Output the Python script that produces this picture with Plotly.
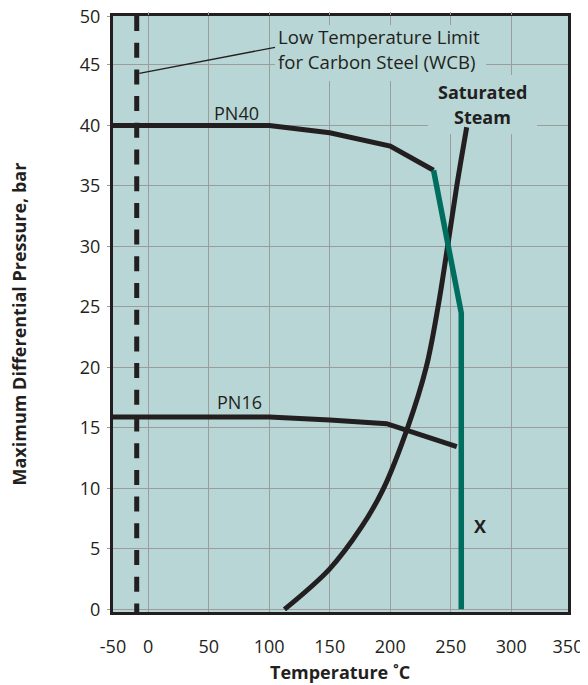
import plotly.graph_objects as go

# ---------------- data ----------------
pn40_temp = [-30, 100, 150, 200, 235.8]
pn40_pres = [40, 40, 39.4, 38.3, 36.3]

limit_temp = [235.8, 258.7, 258.7]
limit_pres = [36.3, 24.5, 0]

pn16_temp = [-30, 100, 150, 197, 255]
pn16_pres = [15.9, 15.9, 15.65, 15.35, 13.45]

steam_temp = [112.6, 150, 176.4, 194.5, 214.3, 229.7, 239.5, 247.4, 255, 263.2]
steam_pres = [0, 3.35, 6.83, 10, 15, 20, 25, 30, 35, 39.85]

wcb_limit_temp = -9.5

x_tickvals = [-29.1, 0, 50, 100, 150, 200, 250, 300, 346.9]
x_ticktext = ["-50", "0", "50", "100", "150", "200", "250", "300", "350"]
x_grid = [0, 50, 100, 150, 200, 250, 300]
y_tickvals = [0, 5, 10, 15, 20, 25, 30, 35, 40, 45, 48.98]
y_ticktext = ["0", "5", "10", "15", "20", "25", "30", "35", "40", "45", "50"]

# ---------------- styling ----------------
DARK = "#231f20"
GREEN = "#006e5f"
BG = "#b7d6d5"
GRID = "#9c9c9c"
FONT = "Open Sans"
XR = [-29.1, 346.9]
YR = [-0.22, 49.05]

OFF = 8  # page body margin
W, H = 588 - OFF, 685 - OFF
PL, PR, PT, PB = 113 - OFF, 568 - OFF, 16 - OFF, 612 - OFF

fig = go.Figure()

fig.add_trace(go.Scatter(x=pn40_temp, y=pn40_pres, mode="lines",
                         line=dict(color=DARK, width=5), hoverinfo="skip"))
fig.add_trace(go.Scatter(x=pn16_temp, y=pn16_pres, mode="lines",
                         line=dict(color=DARK, width=5), hoverinfo="skip"))
fig.add_trace(go.Scatter(x=steam_temp, y=steam_pres, mode="lines",
                         line=dict(color=DARK, width=5, shape="spline", smoothing=1.0),
                         hoverinfo="skip"))
fig.add_trace(go.Scatter(x=limit_temp, y=limit_pres, mode="lines",
                         line=dict(color=GREEN, width=5.5), hoverinfo="skip"))
fig.add_trace(go.Scatter(x=[wcb_limit_temp, wcb_limit_temp], y=[YR[1], YR[0]], mode="lines",
                         line=dict(color=DARK, width=5, dash="15px,11.7px"),
                         hoverinfo="skip", xaxis="x2"))

# background boxes behind labels (hide gridlines, not traces)
fig.add_shape(type="rect", x0=104.8, x1=279.2, y0=43.67, y1=48.31,
              fillcolor=BG, line=dict(width=0), layer="between")
fig.add_shape(type="rect", x0=231.2, x1=321.3, y0=39.3, y1=44.17,
              fillcolor=BG, line=dict(width=0), layer="between")
# leader line
fig.add_shape(type="line", x0=-7.4, y0=44.31, x1=104.8, y1=46.46,
              line=dict(color=DARK, width=1.3), layer="above")

def ann(text, x, y, size=18, bold=False, xanchor="center"):
    fig.add_annotation(text=("<b>%s</b>" % text) if bold else text, x=x, y=y,
                       xref="x", yref="y", showarrow=False, xanchor=xanchor,
                       yanchor="middle", font=dict(family=FONT, size=size, color=DARK))

ann("Low Temperature Limit", 106.0, 47.37, size=18.6, xanchor="left")
ann("for Carbon Steel (WCB)", 106.0, 45.27, size=18.6, xanchor="left")
ann("Saturated", 276.3, 42.8, bold=True)
ann("Steam", 275.9, 40.68, bold=True)
ann("PN40", 73.3, 41.02)
ann("PN16", 75.3, 17.12)
ann("X", 274.2, 6.9, bold=True)

def px2paper_x(px):
    return (px - OFF - PL) / (PR - PL)
def px2paper_y(py):
    return (PB - (py - OFF)) / (PB - PT)

fig.add_annotation(text="<b>Maximum Differential Pressure, bar</b>", textangle=-90,
                   x=px2paper_x(18.5), y=px2paper_y(324), xref="paper", yref="paper",
                   showarrow=False, xanchor="center", yanchor="middle",
                   font=dict(family=FONT, size=18, color=DARK))
fig.add_annotation(text="<b>Temperature ˚C</b>",
                   x=px2paper_x(340), y=px2paper_y(671.7), xref="paper", yref="paper",
                   showarrow=False, xanchor="center", yanchor="middle",
                   font=dict(family=FONT, size=18, color=DARK))

fig.update_layout(
    width=W, height=H,
    margin=dict(l=PL, r=W - PR, t=PT, b=H - PB, pad=0, autoexpand=False),
    paper_bgcolor="white", plot_bgcolor=BG,
    showlegend=False,
    font=dict(family=FONT, size=18, color=DARK),
    xaxis=dict(range=XR, tickvals=x_tickvals, ticktext=x_ticktext, automargin=False,
               showgrid=False, zeroline=False, ticks="", ticklabeloverflow="allow",
               showline=True, linecolor=DARK, linewidth=3, mirror=True,
               tickfont=dict(family=FONT, size=18, color=DARK), ticklabelstandoff=16),
    xaxis2=dict(range=XR, overlaying="x", side="top", tickvals=x_grid, automargin=False,
                showticklabels=False, ticks="outside", ticklen=3, tickcolor=GRID,
                tickwidth=1.3, showgrid=True, gridcolor=GRID, gridwidth=1.3,
                zeroline=False, showline=False),
    yaxis=dict(range=YR, tickvals=y_tickvals, ticktext=y_ticktext, automargin=False,
               showgrid=True, gridcolor=GRID, gridwidth=1.3, zeroline=False,
               ticks="outside", ticklen=3, tickcolor=GRID, tickwidth=1.3,
               ticklabeloverflow="allow",
               showline=True, linecolor=DARK, linewidth=3, mirror=True,
               tickfont=dict(family=FONT, size=18, color=DARK), ticklabelstandoff=3),
)

fig.write_html("out.html")
